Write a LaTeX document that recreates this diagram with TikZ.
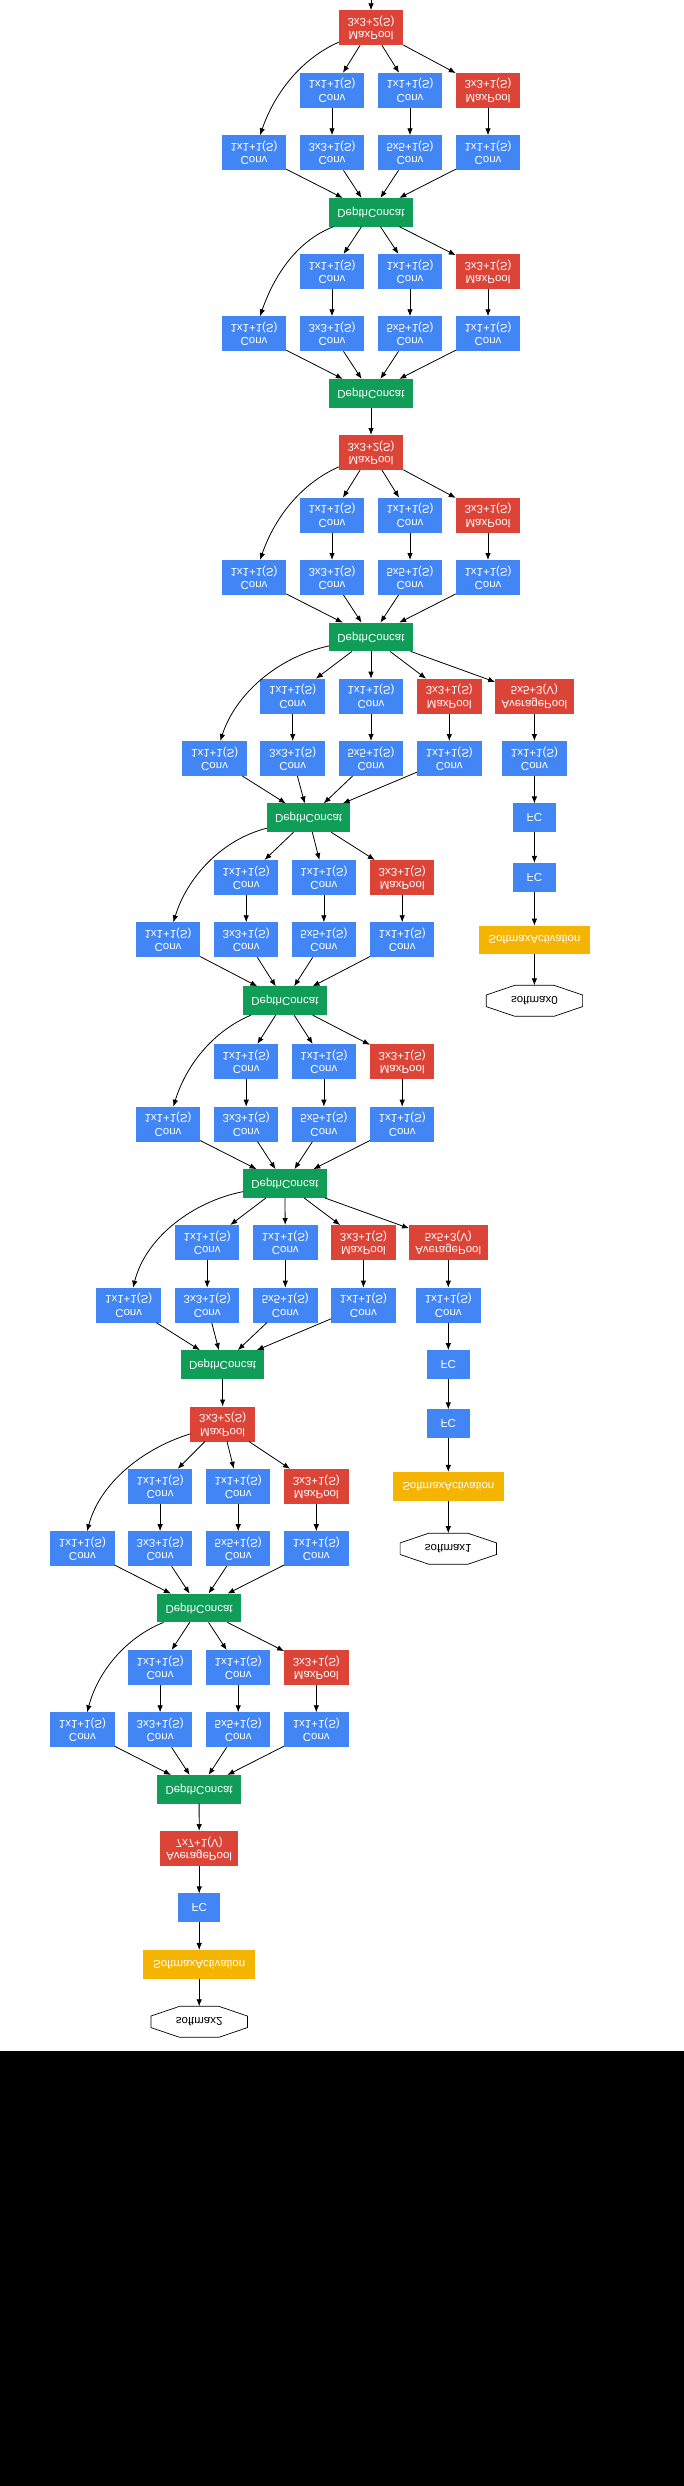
\documentclass[tikz,border=0pt]{standalone}
\usepackage{fontspec}
\setmainfont{Liberation Sans}
\usetikzlibrary{arrows.meta}
\definecolor{gblue}{HTML}{4285F4}
\definecolor{gred}{HTML}{DB4437}
\definecolor{ggreen}{HTML}{0F9D58}
\definecolor{gyellow}{HTML}{F4B400}
\newcommand\twol[2]{\scalebox{1}[-1]{\begin{tabular}{@{}c@{}}#1\\#2\end{tabular}}}
\newcommand\onel[1]{\scalebox{1}[-1]{#1}}
\newcommand\modedges[4]{%
 \draw[arr] (#2) -- (#11);
 \draw[arr] (#2) -- (#12);
 \draw[arr] (#2) -- (#13);
 \draw[arr] (#2) to[out=#3,in=#4,looseness=0.9] (#14);
 \draw[arr] (#11) -- (#15);
 \draw[arr] (#12) -- (#16);
 \draw[arr] (#13) -- (#17);
 \draw[arr] (#14) -- (dc#1);
 \draw[arr] (#15) -- (dc#1);
 \draw[arr] (#16) -- (dc#1);
 \draw[arr] (#17) -- (dc#1);
}
\begin{document}
\begin{tikzpicture}[x=1pt,y=1pt,
  box/.style={inner sep=0pt,outer sep=0pt,text=white,font=\fontsize{11.5}{13.3}\selectfont},
  conv/.style={box,fill=gblue,minimum width=64.5pt,minimum height=35pt},
  pool/.style={box,fill=gred,minimum width=64.5pt,minimum height=35pt},
  apool/.style={box,fill=gred,minimum width=78.5pt,minimum height=35pt},
  dcn/.style={box,fill=ggreen,minimum width=83.5pt,minimum height=28.7pt},
  fcn/.style={box,fill=gblue,minimum width=42.5pt,minimum height=28.7pt},
  sact/.style={box,fill=gyellow,minimum width=111.6pt,minimum height=28.7pt},
  outn/.style={box,text=black,minimum width=96.4pt,minimum height=31pt},
  arr/.style={line width=0.8pt,-{Latex[length=7pt,width=5.5pt]}}]
\useasboundingbox (0,0) rectangle (684,-2486);
\fill[white] (0,0) rectangle (684,-2050.5);
\fill[black] (0,-2050.5) rectangle (684,-2486);

% ---- top
\coordinate (top) at (371,0);
\node[pool] (mpA) at (371,-27.8) {\twol{MaxPool}{3x3+2(S)}};

% ---- module a (3a)
\node[conv] (a1) at (332,-90.3) {\twol{Conv}{1x1+1(S)}};
\node[conv] (a2) at (410,-90.3) {\twol{Conv}{1x1+1(S)}};
\node[pool] (a3) at (488,-90.3) {\twol{MaxPool}{3x3+1(S)}};
\node[conv] (a4) at (254,-152.8) {\twol{Conv}{1x1+1(S)}};
\node[conv] (a5) at (332,-152.8) {\twol{Conv}{3x3+1(S)}};
\node[conv] (a6) at (410,-152.8) {\twol{Conv}{5x5+1(S)}};
\node[conv] (a7) at (488,-152.8) {\twol{Conv}{1x1+1(S)}};
\node[dcn] (dca) at (371,-212.3) {\onel{DepthConcat}};

% ---- module b (3b)
\node[conv] (b1) at (332,-271.5) {\twol{Conv}{1x1+1(S)}};
\node[conv] (b2) at (410,-271.5) {\twol{Conv}{1x1+1(S)}};
\node[pool] (b3) at (488,-271.5) {\twol{MaxPool}{3x3+1(S)}};
\node[conv] (b4) at (254,-333.8) {\twol{Conv}{1x1+1(S)}};
\node[conv] (b5) at (332,-333.8) {\twol{Conv}{3x3+1(S)}};
\node[conv] (b6) at (410,-333.8) {\twol{Conv}{5x5+1(S)}};
\node[conv] (b7) at (488,-333.8) {\twol{Conv}{1x1+1(S)}};
\node[dcn] (dcb) at (371,-393.3) {\onel{DepthConcat}};

\node[pool] (mpB) at (371,-452.5) {\twol{MaxPool}{3x3+2(S)}};

% ---- module c (4a)
\node[conv] (c1) at (332,-515.2) {\twol{Conv}{1x1+1(S)}};
\node[conv] (c2) at (410,-515.2) {\twol{Conv}{1x1+1(S)}};
\node[pool] (c3) at (488,-515.2) {\twol{MaxPool}{3x3+1(S)}};
\node[conv] (c4) at (254,-577.5) {\twol{Conv}{1x1+1(S)}};
\node[conv] (c5) at (332,-577.5) {\twol{Conv}{3x3+1(S)}};
\node[conv] (c6) at (410,-577.5) {\twol{Conv}{5x5+1(S)}};
\node[conv] (c7) at (488,-577.5) {\twol{Conv}{1x1+1(S)}};
\node[dcn] (dcc) at (371,-637) {\onel{DepthConcat}};

% ---- module d (4b) + aux0
\node[conv] (d1) at (292.7,-696.2) {\twol{Conv}{1x1+1(S)}};
\node[conv] (d2) at (371,-696.2) {\twol{Conv}{1x1+1(S)}};
\node[pool] (d3) at (449.3,-696.2) {\twol{MaxPool}{3x3+1(S)}};
\node[conv] (d4) at (214.6,-758.5) {\twol{Conv}{1x1+1(S)}};
\node[conv] (d5) at (292.7,-758.5) {\twol{Conv}{3x3+1(S)}};
\node[conv] (d6) at (371,-758.5) {\twol{Conv}{5x5+1(S)}};
\node[conv] (d7) at (449.3,-758.5) {\twol{Conv}{1x1+1(S)}};
\node[dcn] (dcd) at (308.6,-817.8) {\onel{DepthConcat}};

\node[apool] (ap0) at (534.4,-696.2) {\twol{AveragePool}{5x5+3(V)}};
\node[conv] (cv0) at (534.4,-758.5) {\twol{Conv}{1x1+1(S)}};
\node[fcn] (fa0) at (534.4,-817.8) {\onel{FC}};
\node[fcn] (fb0) at (534.4,-877.3) {\onel{FC}};
\node[sact] (sa0) at (534.4,-940) {\onel{SoftmaxActivation}};
\node[outn] (so0) at (534.4,-1000.8) {\onel{softmax0}};

% ---- module e (4c)
\node[conv] (e1) at (246.2,-877.5) {\twol{Conv}{1x1+1(S)}};
\node[conv] (e2) at (323.9,-877.5) {\twol{Conv}{1x1+1(S)}};
\node[pool] (e3) at (402.2,-877.5) {\twol{MaxPool}{3x3+1(S)}};
\node[conv] (e4) at (168,-939.8) {\twol{Conv}{1x1+1(S)}};
\node[conv] (e5) at (246.2,-939.8) {\twol{Conv}{3x3+1(S)}};
\node[conv] (e6) at (323.9,-939.8) {\twol{Conv}{5x5+1(S)}};
\node[conv] (e7) at (402.2,-939.8) {\twol{Conv}{1x1+1(S)}};
\node[dcn] (dce) at (284.9,-1000.7) {\onel{DepthConcat}};

% ---- module f (4d)
\node[conv] (f1) at (246.2,-1061.5) {\twol{Conv}{1x1+1(S)}};
\node[conv] (f2) at (323.9,-1061.5) {\twol{Conv}{1x1+1(S)}};
\node[pool] (f3) at (402.2,-1061.5) {\twol{MaxPool}{3x3+1(S)}};
\node[conv] (f4) at (168,-1124.2) {\twol{Conv}{1x1+1(S)}};
\node[conv] (f5) at (246.2,-1124.2) {\twol{Conv}{3x3+1(S)}};
\node[conv] (f6) at (323.9,-1124.2) {\twol{Conv}{5x5+1(S)}};
\node[conv] (f7) at (402.2,-1124.2) {\twol{Conv}{1x1+1(S)}};
\node[dcn] (dcf) at (284.9,-1183.5) {\onel{DepthConcat}};

% ---- module g (4e) + aux1
\node[conv] (g1) at (207.2,-1242.5) {\twol{Conv}{1x1+1(S)}};
\node[conv] (g2) at (285.3,-1242.5) {\twol{Conv}{1x1+1(S)}};
\node[pool] (g3) at (363.4,-1242.5) {\twol{MaxPool}{3x3+1(S)}};
\node[conv] (g4) at (128.7,-1305.2) {\twol{Conv}{1x1+1(S)}};
\node[conv] (g5) at (207.2,-1305.2) {\twol{Conv}{3x3+1(S)}};
\node[conv] (g6) at (285.3,-1305.2) {\twol{Conv}{5x5+1(S)}};
\node[conv] (g7) at (363.4,-1305.2) {\twol{Conv}{1x1+1(S)}};
\node[dcn] (dcg) at (222.6,-1364.5) {\onel{DepthConcat}};

\node[apool] (ap1) at (448.3,-1242.5) {\twol{AveragePool}{5x5+3(V)}};
\node[conv] (cv1) at (448.3,-1305.2) {\twol{Conv}{1x1+1(S)}};
\node[fcn] (fa1) at (448.3,-1364.5) {\onel{FC}};
\node[fcn] (fb1) at (448.3,-1423.7) {\onel{FC}};
\node[sact] (sa1) at (448.3,-1486.3) {\onel{SoftmaxActivation}};
\node[outn] (so1) at (448.3,-1548.7) {\onel{softmax1}};

\node[pool] (mpC) at (222.6,-1424) {\twol{MaxPool}{3x3+2(S)}};

% ---- module h (5a)
\node[conv] (h1) at (160.1,-1486.3) {\twol{Conv}{1x1+1(S)}};
\node[conv] (h2) at (238.2,-1486.3) {\twol{Conv}{1x1+1(S)}};
\node[pool] (h3) at (316.3,-1486.3) {\twol{MaxPool}{3x3+1(S)}};
\node[conv] (h4) at (82.4,-1548.7) {\twol{Conv}{1x1+1(S)}};
\node[conv] (h5) at (160.1,-1548.7) {\twol{Conv}{3x3+1(S)}};
\node[conv] (h6) at (238.2,-1548.7) {\twol{Conv}{5x5+1(S)}};
\node[conv] (h7) at (316.3,-1548.7) {\twol{Conv}{1x1+1(S)}};
\node[dcn] (dch) at (199.1,-1608) {\onel{DepthConcat}};

% ---- module i (5b)
\node[conv] (i1) at (160.1,-1667.5) {\twol{Conv}{1x1+1(S)}};
\node[conv] (i2) at (238.2,-1667.5) {\twol{Conv}{1x1+1(S)}};
\node[pool] (i3) at (316.3,-1667.5) {\twol{MaxPool}{3x3+1(S)}};
\node[conv] (i4) at (82.4,-1729.8) {\twol{Conv}{1x1+1(S)}};
\node[conv] (i5) at (160.1,-1729.8) {\twol{Conv}{3x3+1(S)}};
\node[conv] (i6) at (238.2,-1729.8) {\twol{Conv}{5x5+1(S)}};
\node[conv] (i7) at (316.3,-1729.8) {\twol{Conv}{1x1+1(S)}};
\node[dcn] (dci) at (199.1,-1789.3) {\onel{DepthConcat}};

% ---- tail
\node[apool] (apf) at (199.2,-1848.5) {\twol{AveragePool}{7x7+1(V)}};
\node[fcn] (fcf) at (199.2,-1907.8) {\onel{FC}};
\node[sact] (saf) at (199.2,-1964.3) {\onel{SoftmaxActivation}};
\node[outn] (so2) at (199.2,-2021.8) {\onel{softmax2}};

% ---- octagons
\foreach \n in {so0,so1,so2}
  \draw[line width=0.7pt] ([shift={(-48.2,5.8)}]\n.center) -- ([shift={(-19.6,15.5)}]\n.center)
    -- ([shift={(19.6,15.5)}]\n.center) -- ([shift={(48.2,5.8)}]\n.center)
    -- ([shift={(48.2,-5.8)}]\n.center) -- ([shift={(19.6,-15.5)}]\n.center)
    -- ([shift={(-19.6,-15.5)}]\n.center) -- ([shift={(-48.2,-5.8)}]\n.center) -- cycle;

% ---- edges
\draw[arr] (top) -- (mpA);
\modedges{a}{mpA}{204}{71}
\modedges{b}{dca}{201}{71}
\draw[arr] (dcb) -- (mpB);
\modedges{c}{mpB}{204}{71}
\modedges{d}{dcc}{192}{72}
\modedges{e}{dcd}{194}{73}
\modedges{f}{dce}{203}{73}
\modedges{g}{dcf}{191}{76}
\draw[arr] (dcg) -- (mpC);
\modedges{h}{mpC}{197}{75}
\modedges{i}{dch}{202}{75}

\draw[arr] (dcc) -- (ap0);
\draw[arr] (ap0) -- (cv0);
\draw[arr] (cv0) -- (fa0);
\draw[arr] (fa0) -- (fb0);
\draw[arr] (fb0) -- (sa0);
\draw[arr] (sa0) -- (so0);

\draw[arr] (dcf) -- (ap1);
\draw[arr] (ap1) -- (cv1);
\draw[arr] (cv1) -- (fa1);
\draw[arr] (fa1) -- (fb1);
\draw[arr] (fb1) -- (sa1);
\draw[arr] (sa1) -- (so1);

\draw[arr] (dci) -- (apf);
\draw[arr] (apf) -- (fcf);
\draw[arr] (fcf) -- (saf);
\draw[arr] (saf) -- (so2);
\end{tikzpicture}
\end{document}
